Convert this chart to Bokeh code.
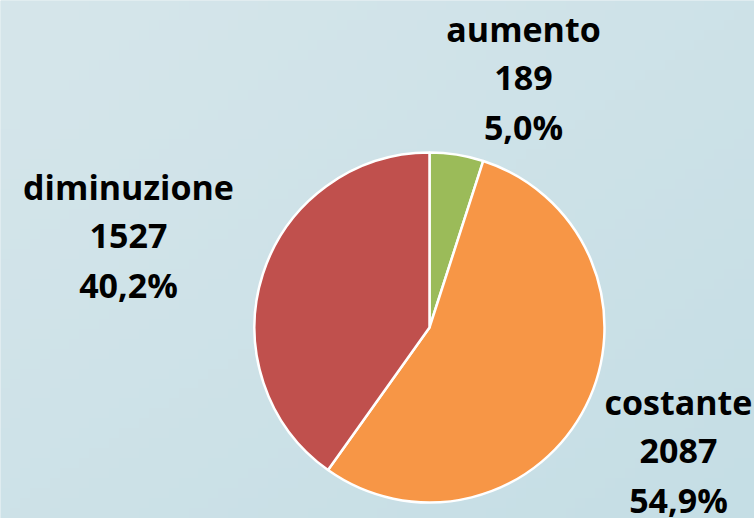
import math
import numpy as np
from bokeh.plotting import figure
from bokeh.models import Range1d, ColumnDataSource
from bokeh.core.properties import value
from bokeh.embed import file_html
from bokeh.resources import INLINE

# ---- data ----
categories = ["aumento", "costante", "diminuzione"]
counts = [189, 2087, 1527]
colors = ["#9BBB59", "#F79646", "#C0504D"]

# ---- layout (pixel positions, top-left origin) ----
W, H = 754, 518
cx, cy, r = 429, 327, 175
label_pos = [(523, 77), (678, 450), (128, 235)]  # center of middle line
line_gap = 49

total = sum(counts)
start = math.pi / 2
starts, ends = [], []
for c in counts:
    a = 2 * math.pi * c / total
    starts.append(start)
    ends.append(start - a)
    start -= a

p = figure(width=W, height=H, x_range=Range1d(0, W), y_range=Range1d(0, H),
           output_backend="svg", toolbar_location=None, min_border=0)
p.axis.visible = False
p.grid.visible = False
p.outline_line_color = None
p.background_fill_color = "#CEE2E8"
p.border_fill_color = "#CEE2E8"

# subtle diagonal background gradient
gw, gh = 76, 52
gx = np.linspace(0, 1, gw)[None, :]
gy = np.linspace(0, 1, gh)[:, None]  # 0 = bottom row
t = np.clip((gx + (1 - gy)) / 2, 0, 1)
c0 = np.array([0xD6, 0xE6, 0xEB])
c1 = np.array([0xC5, 0xDE, 0xE5])
img = np.empty((gh, gw), dtype=np.uint32)
view = img.view(dtype=np.uint8).reshape((gh, gw, 4))
for k in range(3):
    view[:, :, k] = (c0[k] + (c1[k] - c0[k]) * t).astype(np.uint8)
view[:, :, 3] = 255
p.image_rgba(image=[img], x=0, y=0, dw=W, dh=H)

src = ColumnDataSource(dict(x=[cx] * 3, y=[H - cy] * 3, start=starts, end=ends, color=colors))
p.wedge(x="x", y="y", radius=r, start_angle="start", end_angle="end", direction="clock",
        fill_color="color", line_color="white", line_width=2.5, source=src)

tx, ty, tt = [], [], []
for cat, cnt, (lx, ly) in zip(categories, counts, label_pos):
    pct = f"{100 * cnt / total:.1f}%".replace(".", ",")
    for i, s in enumerate([cat, str(cnt), pct]):
        tx.append(lx)
        ty.append(H - (ly + (i - 1) * line_gap))
        tt.append(s)

p.text(x=tx, y=ty, text=tt, text_font=value("Open Sans"), text_font_style="bold",
       text_font_size="34px", text_align="center", text_baseline="middle", text_color="#000000")

html = file_html(p, INLINE)
html = html.replace("<body>", '<body style="margin:0;background:#CEE2E8">', 1)
open("out.html", "w").write(html)
